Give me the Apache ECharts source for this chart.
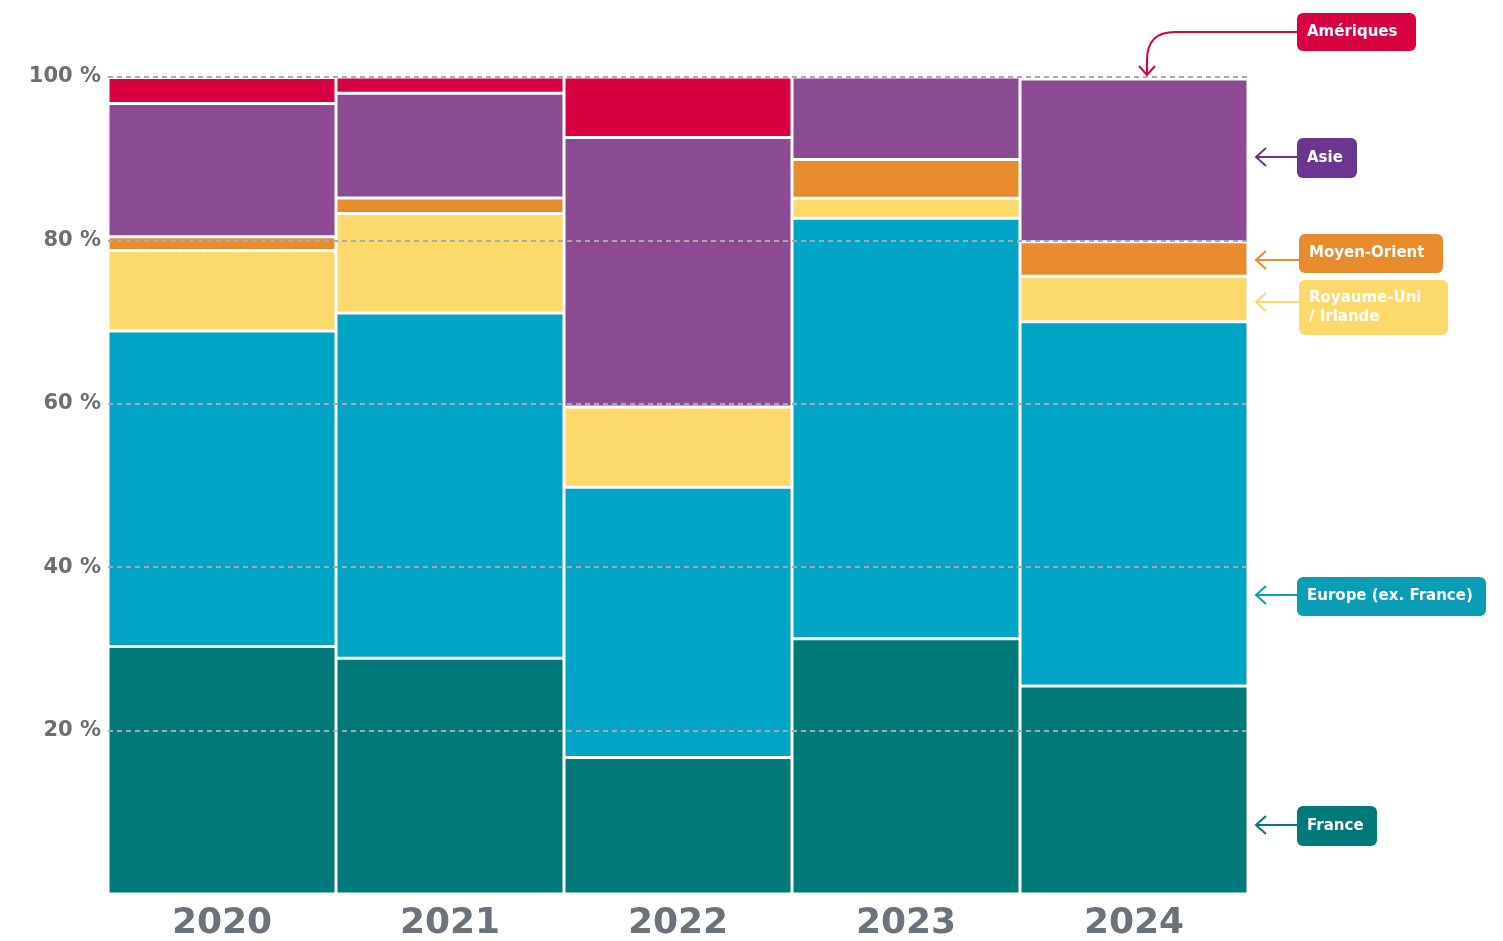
<!DOCTYPE html>
<html>
<head>
<meta charset="utf-8">
<script src="https://cdn.jsdelivr.net/npm/echarts@6/dist/echarts.min.js"></script>
<style>
  html, body { margin: 0; padding: 0; background: #fff; }
  #chart { width: 1503px; height: 941px; }
</style>
</head>
<body>
<div id="chart"></div>
<script>
// years on x axis
const years = ['2020', '2021', '2022', '2023', '2024']

// shares in % per zone, bottom to top
const france = [30.3, 28.85, 16.7, 31.25, 25.45]
const europe = [38.6, 42.25, 33.1, 51.45, 44.6]
const royaumeUni = [9.85, 12.2, 9.8, 2.45, 5.55]
const moyenOrient = [1.7, 1.9, 0, 4.75, 4.25]
const asie = [16.3, 12.8, 33.0, 10.1, 19.9]
const ameriques = [3.2, 2.0, 7.4, 0, 0.25]

const yTicks = [20, 40, 60, 80, 100]

const colors = {
  france: '#00797b',
  europe: '#00a4c4',
  uk: '#fdd86b',
  mo: '#e88b2d',
  asie: '#8c4a93',
  am: '#d90042'
}

const chart = echarts.init(document.getElementById('chart'))

const makeSeries = (name, data, color) => ({
  name,
  type: 'bar',
  stack: 'total',
  data,
  barCategoryGap: 0,
  itemStyle: { color, borderColor: '#fff', borderWidth: 1.5 }
})

const labelFont = 'bold 15px "DejaVu Sans", sans-serif'

// callout boxes on the right
const callout = (text, x, y, w, h, color, arrowY) => ({
  type: 'group',
  children: [
    { type: 'line', shape: { x1: 1256, y1: arrowY, x2: x, y2: arrowY }, style: { stroke: color, lineWidth: 2 } },
    { type: 'polyline', shape: { points: [[1266, arrowY - 9], [1256, arrowY], [1266, arrowY + 9]] }, style: { stroke: color, lineWidth: 2, fill: null } },
    { type: 'rect', shape: { x, y, width: w, height: h, r: 6 }, style: { fill: color } },
    {
      type: 'text',
      x: x + 10,
      y: y + h / 2,
      style: { text, fill: '#fff', font: labelFont, verticalAlign: 'middle', lineHeight: 19 }
    }
  ]
})

const option = {
  animation: false,
  grid: { left: 108, right: 255, top: 77, bottom: 47, outerBoundsMode: 'none' },
  xAxis: {
    type: 'category',
    data: years,
    axisLine: { show: false },
    axisTick: { show: false },
    axisLabel: {
      color: '#6b7279',
      fontSize: 36,
      fontWeight: 'bold',
      fontFamily: '"DejaVu Sans", sans-serif',
      margin: 12
    }
  },
  yAxis: {
    type: 'value',
    min: 0,
    max: 100,
    interval: 20,
    z: 10,
    axisLine: { show: false },
    axisTick: { show: false },
    axisLabel: {
      color: '#6d6e71',
      fontSize: 21,
      fontWeight: 'bold',
      fontFamily: '"DejaVu Sans", sans-serif',
      margin: 7,
      formatter: v => (yTicks.includes(v) ? v + ' %' : '')
    },
    splitLine: {
      showMinLine: false,
      lineStyle: { color: '#a9aab0', width: 2, type: [5, 4] }
    }
  },
  series: [
    makeSeries('France', france, colors.france),
    makeSeries('Europe (ex. France)', europe, colors.europe),
    makeSeries('Royaume-Uni / Irlande', royaumeUni, colors.uk),
    makeSeries('Moyen-Orient', moyenOrient, colors.mo),
    makeSeries('Asie', asie, colors.asie),
    makeSeries('Amériques', ameriques, colors.am)
  ],
  graphic: [
    // Amériques callout with curved arrow
    { type: 'line', shape: { x1: 1175, y1: 32, x2: 1297, y2: 32 }, style: { stroke: colors.am, lineWidth: 2 } },
    {
      type: 'bezierCurve',
      shape: { x1: 1175, y1: 32, cpx1: 1147, cpy1: 32, x2: 1147, y2: 60 },
      style: { stroke: colors.am, lineWidth: 2, fill: null }
    },
    { type: 'line', shape: { x1: 1147, y1: 60, x2: 1147, y2: 75 }, style: { stroke: colors.am, lineWidth: 2 } },
    {
      type: 'polyline',
      shape: { points: [[1139, 66], [1147, 75], [1155, 66]] },
      style: { stroke: colors.am, lineWidth: 2, fill: null }
    },
    { type: 'rect', shape: { x: 1297, y: 13, width: 119, height: 38, r: 6 }, style: { fill: colors.am } },
    {
      type: 'text', x: 1307, y: 32,
      style: { text: 'Amériques', fill: '#fff', font: labelFont, verticalAlign: 'middle' }
    },
    callout('Asie', 1297, 138, 60, 40, '#6c358f', 157),
    callout('Moyen-Orient', 1299, 234, 144, 39, colors.mo, 260),
    callout('Royaume-Uni\n/ Irlande', 1299, 280, 149, 55, colors.uk, 302),
    callout('Europe (ex. France)', 1297, 577, 189, 39, '#0a9db8', 595),
    callout('France', 1297, 806, 80, 40, colors.france, 825)
  ]
}

chart.setOption(option)
</script>
</body>
</html>
